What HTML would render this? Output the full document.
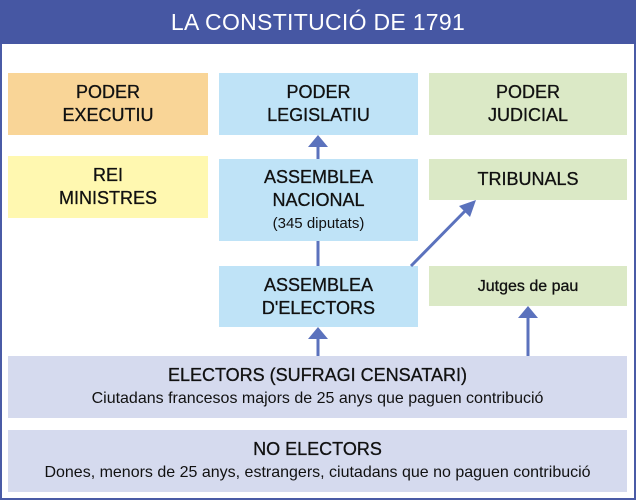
<!DOCTYPE html>
<html><head><style>
body{margin:0;width:636px;height:500px;background:#fff;font-family:"Liberation Sans",sans-serif;position:relative;overflow:hidden}
.frame{position:absolute;left:0;top:0;width:632px;height:496px;border:2px solid #4a5ba6}
.hdr{position:absolute;left:0;top:0;width:636px;height:44px;background:#4657a3;color:#fff;font-size:23px;text-align:center;line-height:44px;letter-spacing:0.3px}
.b{position:absolute;display:flex;flex-direction:column;align-items:center;justify-content:center;text-align:center;color:#111;font-size:18px;line-height:23px;-webkit-text-stroke:0.3px #111}
.o{background:#f9d597}.bl{background:#bfe3f7}.g{background:#dbe9c6}.y{background:#fff8b0}.l{background:#d5daee}
.s{font-size:15px;-webkit-text-stroke:0}
</style></head><body>
<div class="frame"></div>
<div class="hdr">LA CONSTITUCIÓ DE 1791</div>
<div class="b o" style="left:8px;top:73px;width:200px;height:62px">PODER<br>EXECUTIU</div>
<div class="b bl" style="left:219px;top:73px;width:199px;height:62px">PODER<br>LEGISLATIU</div>
<div class="b g" style="left:429px;top:73px;width:198px;height:62px">PODER<br>JUDICIAL</div>
<div class="b y" style="left:8px;top:156px;width:200px;height:62px">REI<br>MINISTRES</div>
<div class="b bl" style="left:219px;top:159px;width:199px;height:82px">ASSEMBLEA<br>NACIONAL<br><span class="s">(345 diputats)</span></div>
<div class="b g" style="left:429px;top:159px;width:198px;height:41px">TRIBUNALS</div>
<div class="b bl" style="left:219px;top:266px;width:199px;height:61px">ASSEMBLEA<br>D'ELECTORS</div>
<div class="b g" style="left:429px;top:266px;width:198px;height:40px;font-size:16px">Jutges de pau</div>
<div class="b l" style="left:8px;top:356px;width:619px;height:62px">ELECTORS (SUFRAGI CENSATARI)<br><span class="s" style="font-size:16px">Ciutadans francesos majors de 25 anys que paguen contribució</span></div>
<div class="b l" style="left:8px;top:430px;width:619px;height:62px">NO ELECTORS<br><span class="s" style="font-size:16px">Dones, menors de 25 anys, estrangers, ciutadans que no paguen contribució</span></div>
<svg width="636" height="500" style="position:absolute;left:0;top:0">
<g stroke="#5b72bd" stroke-width="3" fill="#5b72bd">
<line x1="318" y1="145" x2="318" y2="159"/>
<polygon points="318,135 308,147 328,147" stroke="none"/>
<line x1="318" y1="241" x2="318" y2="266"/>
<line x1="318" y1="337" x2="318" y2="356"/>
<polygon points="318,327 308,339 328,339" stroke="none"/>
<line x1="528" y1="316" x2="528" y2="356"/>
<polygon points="528,306 518,318 538,318" stroke="none"/>
<line x1="411" y1="266" x2="468" y2="208"/>
<polygon points="476,200 459,206 470,217" stroke="none"/>
</g></svg>
</body></html>
